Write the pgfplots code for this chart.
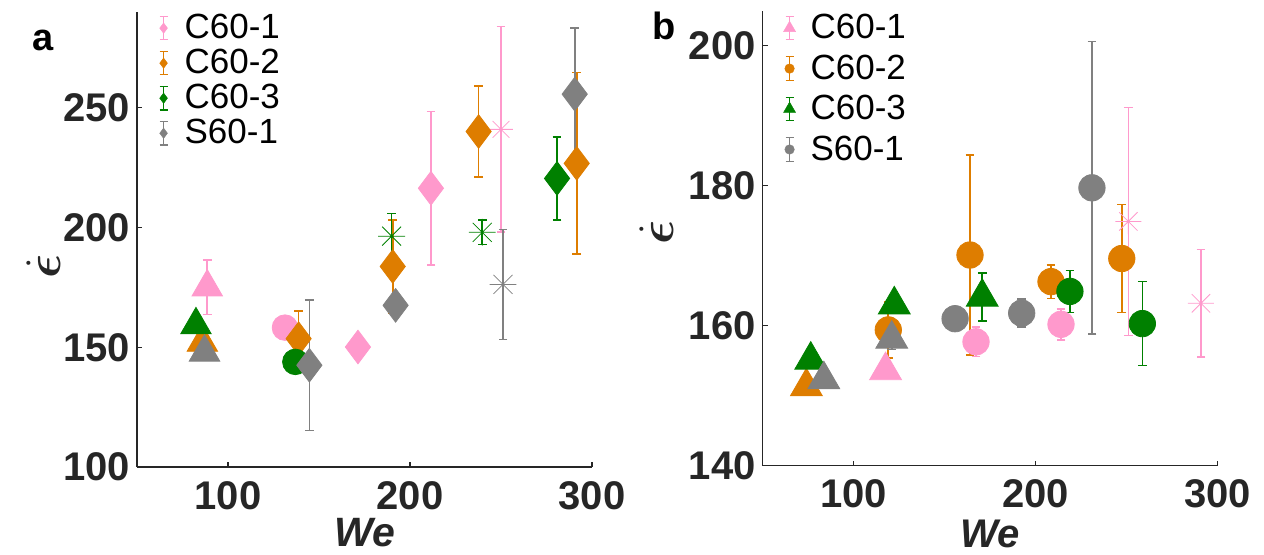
\documentclass[border=0pt]{standalone}
\usepackage{fontspec}
\setmainfont{Liberation Sans}
\usepackage{bm}
\usepackage{pgfplots}
\pgfplotsset{compat=1.18}

\definecolor{cpink}{RGB}{255,153,204}
\definecolor{corange}{RGB}{222,125,0}
\definecolor{cgreen}{RGB}{0,128,0}
\definecolor{cgray}{RGB}{128,128,128}
\definecolor{axgray}{RGB}{38,38,38}

\pgfdeclareplotmark{ast8}{%
  \pgfpathmoveto{\pgfqpoint{-\pgfplotmarksize}{0pt}}\pgfpathlineto{\pgfqpoint{\pgfplotmarksize}{0pt}}%
  \pgfpathmoveto{\pgfqpoint{0pt}{-\pgfplotmarksize}}\pgfpathlineto{\pgfqpoint{0pt}{\pgfplotmarksize}}%
  \pgfpathmoveto{\pgfqpoint{-.7071\pgfplotmarksize}{-.7071\pgfplotmarksize}}\pgfpathlineto{\pgfqpoint{.7071\pgfplotmarksize}{.7071\pgfplotmarksize}}%
  \pgfpathmoveto{\pgfqpoint{-.7071\pgfplotmarksize}{.7071\pgfplotmarksize}}\pgfpathlineto{\pgfqpoint{.7071\pgfplotmarksize}{-.7071\pgfplotmarksize}}%
  \pgfusepathqstroke}

\pgfplotsset{
  myaxis/.style={scale only axis, width=227.5pt, height=227.5pt,
    axis x line*=bottom, axis y line*=left,
    axis line style={axgray, line width=0.6pt},
    tick style={axgray, line width=0.6pt}, tick align=inside, major tick length=2.5pt,
    xmin=50, xmax=300, xtick={100,200,300},
    ticklabel style={font=\fontsize{20}{20}\selectfont\bfseries, text=axgray},
    /pgf/number format/assume math mode=true,
    xticklabel style={yshift=-3.5pt},
    clip=false,
    legend cell align=left,
    legend style={draw=none, fill=none, anchor=north west, column sep=4.5pt,
      font=\fontsize{17.5}{17.5}\selectfont, nodes={inner sep=0pt}},
  },
  ebar/.style={only marks, error bars/y dir=both, error bars/y explicit,
    error bars/error bar style={line width=0.8pt},
    error bars/error mark options={rotate=90, line width=0.8pt, mark size=2.2pt}},
  om/.style={only marks},
  errleg/.style={legend image code/.code={%
    \path[draw=none, fill=none] (-6pt,-6pt) rectangle (6pt,6pt);
    \draw[##1, line width=0.6pt, mark=none, fill=none] (0pt,-5.85pt) -- (0pt,5.85pt) (-2pt,-5.85pt) -- (2pt,-5.85pt) (-2pt,5.85pt) -- (2pt,5.85pt);
    \draw[##1, line width=0.2pt] plot coordinates {(0pt,0pt)};
  }},
}

\begin{document}
\begin{tikzpicture}
\useasboundingbox (0,0) rectangle (632pt,277pt);

% ---------------- panel a ----------------
\begin{axis}[myaxis, at={(68.5pt,43.5pt)}, anchor=south west,
  ymin=100, ymax=290, ytick={100,150,200,250},
  legend style={at={(rel axis cs:0.018,1.0044)}, row sep=3.8pt}]
\addlegendimage{errleg, cpink, mark=diamond*, mark size=2.6pt}
\addlegendimage{errleg, corange, mark=diamond*, mark size=2.6pt}
\addlegendimage{errleg, cgreen, mark=diamond*, mark size=2.6pt}
\addlegendimage{errleg, cgray, mark=diamond*, mark size=2.6pt}
\legend{C60-1, C60-2, C60-3, S60-1}

% C60-1
\addplot[forget plot, cpink, ebar, mark=triangle*, mark size=8.8pt]
  coordinates {(88.6,175.1) +- (0,11.4)};
\addplot[forget plot, cpink, ebar, mark=*, mark size=6.4pt]
  coordinates {(131.3,158.2) +- (0,3)};
\addplot[forget plot, cpink, om, mark=diamond*, mark size=8.4pt]
  coordinates {(171.4,150.1)};
\addplot[forget plot, cpink, ebar, mark=diamond*, mark size=8.4pt]
  coordinates {(211.5,216.4) +- (0,32)};
\addplot[forget plot, cpink, ebar, mark=ast8, mark size=5.9pt]
  coordinates {(250.0,241.0) +- (0,42.9)};
% C60-2
\addplot[forget plot, corange, om, mark=triangle*, mark size=8.8pt]
  coordinates {(85.9,152.0)};
\addplot[forget plot, corange, ebar, mark=diamond*, mark size=8.4pt]
  coordinates {(138.8,153.6) +- (0,11.5) (190.5,183.75) +- (0,19.5) (237.7,240.1) +- (0,18.9) (291.6,226.8) +- (0,37.9)};
% C60-3
\addplot[forget plot, cgreen, om, mark=triangle*, mark size=8.8pt]
  coordinates {(82.4,159.3)};
\addplot[forget plot, cgreen, om, mark=*, mark size=6.4pt]
  coordinates {(137.0,143.9)};
\addplot[forget plot, cgreen, ebar, mark=ast8, mark size=6.7pt]
  coordinates {(189.9,196.4) +- (0,9.5) (239.7,198.0) +- (0,5.1)};
\addplot[forget plot, cgreen, ebar, mark=diamond*, mark size=8.4pt]
  coordinates {(280.8,220.5) +- (0,17.4)};
% S60-1
\addplot[forget plot, cgray, om, mark=triangle*, mark size=8.8pt]
  coordinates {(87.1,147.9)};
\addplot[forget plot, cgray, ebar, mark=diamond*, mark size=8.4pt]
  coordinates {(144.7,142.5) +- (0,27.3) (290.5,255.7) +- (0,27.7)};
\addplot[forget plot, cgray, om, mark=diamond*, mark size=8.4pt]
  coordinates {(192.1,167.5)};
\addplot[forget plot, cgray, ebar, mark=ast8, mark size=6.7pt]
  coordinates {(251.1,176.25) +- (0,23)};

\node[inner sep=0pt, font=\fontsize{20.5}{20.5}\selectfont\bfseries\itshape, text=axgray] at (rel axis cs:0.5,-0.145) {We};
\end{axis}
\node[rotate=90, anchor=base, inner sep=0pt, text=axgray, font=\fontsize{38}{38}\selectfont] at (30pt,144pt) {$\bm{\dot{\epsilon}}$};
\node[anchor=base west, inner sep=0pt, font=\fontsize{19}{19}\selectfont\bfseries] at (16pt,252pt) {a};

% ---------------- panel b ----------------
\begin{axis}[myaxis, at={(381.35pt,44.15pt)}, anchor=south west,
  ymin=140, ymax=205, ytick={140,160,180,200},
  legend style={at={(rel axis cs:0.0186,1.0015)}, row sep=6.5pt}]
\addlegendimage{errleg, cpink, mark=triangle*, mark size=3.5pt}
\addlegendimage{errleg, corange, mark=*, mark size=2.4pt}
\addlegendimage{errleg, cgreen, mark=triangle*, mark size=3.5pt}
\addlegendimage{errleg, cgray, mark=*, mark size=2.4pt}
\legend{C60-1, C60-2, C60-3, S60-1}

% C60-1
\addplot[forget plot, cpink, om, mark=triangle*, mark size=9.2pt]
  coordinates {(117.5,153.6)};
\addplot[forget plot, cpink, ebar, mark=*, mark size=6.6pt]
  coordinates {(167.2,157.7) +- (0,2.1) (213.9,160.2) +- (0,2.2)};
\addplot[forget plot, cpink, ebar, mark=ast8, mark size=6.5pt]
  coordinates {(250.9,174.9) +- (0,16.3) (290.8,163.2) +- (0,7.7)};
% C60-2
\addplot[forget plot, corange, om, mark=triangle*, mark size=9.2pt]
  coordinates {(74.0,151.3)};
\addplot[forget plot, corange, ebar, mark=*, mark size=6.6pt]
  coordinates {(119.0,159.4) +- (0,4) (163.9,170.1) +- (0,14.3) (208.4,166.3) +- (0,2.4) (247.3,169.6) +- (0,7.7)};
% C60-3
\addplot[forget plot, cgreen, om, mark=triangle*, mark size=9.2pt]
  coordinates {(76.4,155.1) (122.3,163.0)};
\addplot[forget plot, cgreen, ebar, mark=triangle*, mark size=9.2pt]
  coordinates {(170.6,164.1) +- (0,3.4)};
\addplot[forget plot, cgreen, ebar, mark=*, mark size=6.6pt]
  coordinates {(218.8,164.9) +- (0,3.0) (258.6,160.3) +- (0,6)};
% S60-1
\addplot[forget plot, cgray, om, mark=triangle*, mark size=9.2pt]
  coordinates {(83.6,152.3)};
\addplot[forget plot, cgray, ebar, mark=triangle*, mark size=9.2pt]
  coordinates {(120.9,158.1) +- (0,1.5)};
\addplot[forget plot, cgray, om, mark=*, mark size=6.6pt]
  coordinates {(155.7,161.0)};
\addplot[forget plot, cgray, ebar, mark=*, mark size=6.6pt]
  coordinates {(192.3,161.8) +- (0,2) (230.9,179.7) +- (0,20.9)};

\node[inner sep=0pt, font=\fontsize{20}{20}\selectfont\bfseries\itshape, text=axgray] at (rel axis cs:0.5,-0.150) {We};
\end{axis}
\node[rotate=90, anchor=base, inner sep=0pt, text=axgray, font=\fontsize{38}{38}\selectfont] at (336.5pt,161pt) {$\bm{\dot{\epsilon}}$};
\node[anchor=base west, inner sep=0pt, font=\fontsize{19}{19}\selectfont\bfseries] at (326pt,257.5pt) {b};
\end{tikzpicture}
\end{document}
